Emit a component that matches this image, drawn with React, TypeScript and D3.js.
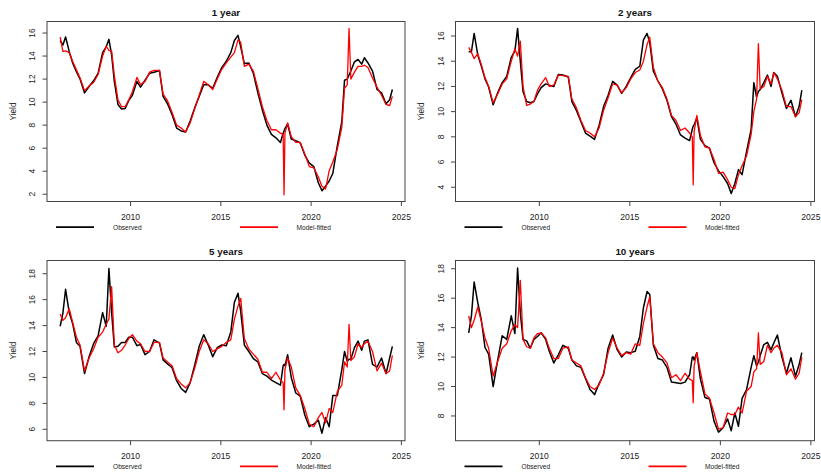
import React from 'react';
import * as d3 from 'd3';

// sampling dates (decimal years), shared by every series
const DATES = [
  2006.1, 2006.25, 2006.4, 2006.6, 2006.8, 2007.0, 2007.2, 2007.45, 2007.7, 2007.95,
  2008.2, 2008.45, 2008.65, 2008.8, 2008.95, 2009.1, 2009.3, 2009.5, 2009.7, 2009.9,
  2010.1, 2010.35, 2010.55, 2010.8, 2011.05, 2011.3, 2011.6, 2011.8, 2012.05, 2012.3,
  2012.55, 2012.8, 2013.05, 2013.3, 2013.55, 2013.8, 2014.05, 2014.3, 2014.55, 2014.8,
  2015.05, 2015.3, 2015.55, 2015.75, 2015.95, 2016.1, 2016.3, 2016.55, 2016.8, 2017.05,
  2017.3, 2017.55, 2017.8, 2018.05, 2018.3, 2018.45, 2018.5, 2018.55, 2018.7, 2018.9,
  2019.15, 2019.4, 2019.65, 2019.9, 2020.15, 2020.4, 2020.6, 2020.8, 2021.0, 2021.2,
  2021.45, 2021.7, 2021.85, 2022.0, 2022.1, 2022.2, 2022.4, 2022.6, 2022.8, 2022.95,
  2023.15, 2023.4, 2023.65, 2023.9, 2024.15, 2024.35, 2024.5,
];

const Y1_OBS = [
  15.35, 14.95, 15.65, 14.4, 13.35, 12.65, 12.0, 10.8, 11.35, 11.85,
  12.5, 14.3, 14.8, 15.45, 14.1, 11.8, 9.8, 9.4, 9.45, 10.15,
  10.6, 11.8, 11.3, 11.9, 12.5, 12.6, 12.75, 10.5, 9.85, 8.9,
  7.75, 7.5, 7.4, 8.35, 9.5, 10.5, 11.5, 11.5, 11.2, 12.15,
  13.0, 13.55, 14.3, 15.35, 15.8, 14.8, 13.35, 13.4, 12.5, 10.8,
  9.3, 8.0, 7.2, 6.9, 6.5, 7.3, 7.5, 7.7, 8.1, 6.8,
  6.65, 6.45, 5.4, 4.7, 4.4, 3.0, 2.3, 2.7, 3.15, 3.8,
  6.2, 8.3, 11.9, 12.0, 12.35, 12.7, 13.5, 13.7, 13.3, 13.85,
  13.4, 12.7, 11.1, 10.8, 9.85, 10.2, 11.1,
];
const Y1_FIT = [
  15.65, 14.4, 14.45, 14.3, 13.5, 12.8, 12.1, 11.0, 11.4, 11.7,
  12.4, 14.0, 14.85, 14.5, 14.45, 12.3, 10.2, 9.6, 9.6, 10.2,
  10.9, 12.15, 11.5, 11.8, 12.6, 12.75, 12.75, 10.7, 10.1, 9.1,
  8.0, 7.75, 7.4, 8.2, 9.4, 10.6, 11.8, 11.5, 11.1, 12.0,
  12.85, 13.4, 13.9, 14.3, 15.4, 15.2, 13.1, 13.3, 12.7, 11.2,
  9.6, 8.4, 7.6, 7.6, 7.3, 7.2, 1.95, 7.3, 8.2, 7.0,
  6.5, 6.5, 5.5, 4.4, 4.3, 3.5, 2.7, 2.45, 4.05, 4.8,
  5.9, 7.8, 11.2, 11.5, 16.4, 12.0, 12.6, 13.1, 13.1, 13.2,
  13.0, 12.1, 11.3, 10.6, 9.8, 9.7, 10.5,
];

const Y2_OBS = [
  14.75, 14.75, 16.2, 14.5, 13.6, 12.6, 11.95, 10.55, 11.5, 12.3,
  12.8, 14.3, 14.8, 16.6, 14.0, 11.6, 10.8, 10.7, 10.8, 11.4,
  11.9, 12.2, 12.1, 12.0, 12.95, 12.9, 12.75, 10.8, 10.1, 9.2,
  8.3, 8.05, 7.8, 8.9, 10.4, 11.3, 12.4, 12.1, 11.45, 12.0,
  12.7, 13.35, 13.6, 15.7, 16.2, 15.5, 13.2, 12.45, 11.8, 10.9,
  9.6, 9.0, 8.15, 7.9, 7.7, 8.6, 8.85, 8.95, 9.5, 7.8,
  7.3, 7.1, 5.95, 5.3, 4.85, 4.3, 3.5, 4.3, 5.4, 5.0,
  6.85, 8.6, 12.3, 11.15, 11.6, 11.75, 12.3, 12.9, 12.0, 13.1,
  12.8, 11.5, 10.25, 10.9, 9.6, 10.4, 11.7,
];
const Y2_FIT = [
  15.1, 14.7, 14.2, 14.6, 13.7, 12.7, 12.0, 10.7, 11.4, 12.2,
  12.6, 14.0, 15.0, 14.4, 15.6, 12.0, 10.5, 10.6, 10.8, 11.7,
  12.2, 12.7, 12.0, 12.1, 12.9, 12.85, 12.8, 11.0, 10.3, 9.3,
  8.5, 8.3, 8.0, 8.7, 10.1, 11.1, 12.2, 12.1, 11.5, 11.9,
  12.6, 13.1, 13.3, 14.0, 15.3, 15.9, 13.5, 12.4, 11.9, 11.0,
  9.7, 9.3, 8.5, 8.7, 8.3, 8.0, 4.2, 8.4, 9.7, 8.1,
  7.2, 7.1, 6.2, 5.1, 5.2, 4.6, 4.0, 3.9, 5.0, 5.7,
  6.5, 8.2, 10.0, 11.0, 15.4, 11.8, 12.0, 12.8, 12.2, 13.1,
  12.6, 11.7, 10.4, 10.4, 9.6, 9.9, 10.95,
];

const Y5_OBS = [
  13.95, 14.95, 16.8, 15.0, 14.1, 12.7, 12.4, 10.3, 11.6, 12.6,
  13.2, 15.0, 13.95, 18.4, 15.0, 12.35, 12.4, 12.7, 12.7, 13.1,
  13.1, 12.45, 12.55, 11.75, 12.0, 12.9, 12.65, 11.35, 11.05, 10.75,
  9.75, 9.15, 8.85, 9.6, 10.95, 12.4, 13.3, 12.5, 11.6, 12.3,
  12.5, 12.45, 13.5, 15.8, 16.5, 15.1, 12.5, 12.0, 11.45, 11.2,
  10.3, 10.1, 9.8, 9.6, 9.4, 10.9, 11.0, 10.9, 11.75, 10.0,
  8.8, 8.55, 7.1, 6.2, 6.4, 6.7, 5.7, 6.9, 6.2, 8.6,
  8.6, 10.6, 12.0, 11.25, 11.4, 11.4, 12.3, 12.8, 12.1, 12.8,
  12.9, 11.0, 10.8, 11.5, 10.3, 11.5, 12.4,
];
const Y5_FIT = [
  14.9, 14.4, 14.6, 15.3, 14.2, 13.1, 12.5, 10.5, 11.5, 12.2,
  13.1, 13.5, 14.1, 14.5, 17.0, 12.5, 11.9, 12.1, 12.5, 13.0,
  13.3, 12.8, 12.6, 12.0, 12.0, 12.7, 12.7, 11.5, 11.2, 10.9,
  9.9, 9.5, 9.2, 9.6, 10.7, 12.0, 12.9, 12.6, 12.0, 12.2,
  12.4, 12.7, 12.9, 14.5, 15.5, 16.1, 13.0, 12.2, 11.8, 11.4,
  10.4, 10.4, 9.9, 10.4, 9.8, 9.6, 7.5, 10.6, 11.5, 10.8,
  9.2, 8.6, 7.6, 6.4, 6.2, 6.9, 7.3, 6.5, 7.6, 7.3,
  8.9, 9.4, 11.2, 10.8, 14.1, 11.3, 11.6, 12.6, 12.3, 12.6,
  12.8, 12.0, 10.5, 11.1, 10.3, 10.5, 11.7,
];

const Y10_OBS = [
  13.65, 14.8, 17.1, 15.7, 14.5, 12.65, 12.2, 10.0, 11.8, 13.45,
  13.2, 14.8, 13.6, 18.05, 15.0, 13.2, 13.1, 12.6, 13.2, 13.4,
  13.65, 13.2, 12.4, 11.6, 12.15, 12.8, 12.6, 11.8, 11.4, 11.3,
  10.55, 9.8, 9.45, 10.2, 10.8, 12.6, 13.5, 12.5, 12.0, 12.35,
  12.3, 12.4, 13.4, 15.35, 16.45, 16.25, 12.8, 11.9, 11.8, 11.3,
  10.3, 10.25, 10.2, 10.3, 10.8, 12.0, 12.0, 11.8, 12.3, 10.5,
  9.25, 9.15, 7.65, 6.9, 7.2, 7.8, 7.0, 8.2, 7.3, 9.2,
  9.8, 11.3, 12.1, 11.4, 11.65, 12.1, 12.85, 13.0, 12.5, 12.95,
  13.5, 12.0, 10.9, 11.95, 10.7, 11.5, 12.3,
];
const Y10_FIT = [
  14.8, 14.0, 14.5, 15.4, 14.4, 13.3, 12.6, 10.7, 11.7, 12.6,
  12.9, 13.8, 14.2, 14.0, 17.2, 13.2, 12.7, 12.6, 13.3, 13.6,
  13.65, 13.3, 12.6, 11.9, 11.9, 12.6, 12.7, 11.8, 11.6, 11.4,
  10.6, 10.0, 9.8, 10.1, 10.9, 12.3, 13.3, 12.6, 12.1, 12.3,
  12.2, 12.9, 12.8, 14.3, 15.4, 16.1, 12.9, 12.3, 12.0, 11.6,
  10.6, 10.8, 10.4, 10.9, 10.5, 10.4, 8.9, 11.4, 12.3, 11.0,
  9.5, 9.2, 8.2, 7.1, 7.2, 8.2, 8.1, 8.1, 8.6, 8.2,
  9.7, 10.0, 11.0, 11.2, 13.65, 11.5, 11.7, 12.8, 12.3, 12.6,
  12.8, 12.3, 10.8, 11.2, 10.5, 10.9, 12.0,
];

const YEAR_TICKS = [2010, 2015, 2020, 2025];
const Y1_TICKS = [2, 4, 6, 8, 10, 12, 14, 16];
const Y2_TICKS = [4, 6, 8, 10, 12, 14, 16];
const Y5_TICKS = [6, 8, 10, 12, 14, 16, 18];
const Y10_TICKS = [8, 10, 12, 14, 16, 18];
const TITLES = ['1 year', '2 years', '5 years', '10 years'];
const LEGEND_LABELS = ['Observed', 'Model-fitted'];

// layout
const W = 821;
const H = 472;
const X_DOMAIN: [number, number] = [2005.37, 2025.2];
const COLS = [[47, 405], [455.5, 814.5]];
const ROWS = [[21.5, 201.5], [260.5, 440.7]];
const FONT = '"Liberation Sans", Arial, Helvetica, sans-serif';
const AXIS_COL = '#444';

const PANELS = [
  { title: TITLES[0], obs: Y1_OBS, fit: Y1_FIT, yDomain: [1.37, 17.0], ticks: Y1_TICKS, col: 0, row: 0 },
  { title: TITLES[1], obs: Y2_OBS, fit: Y2_FIT, yDomain: [2.87, 17.15], ticks: Y2_TICKS, col: 1, row: 0 },
  { title: TITLES[2], obs: Y5_OBS, fit: Y5_FIT, yDomain: [5.12, 19.02], ticks: Y5_TICKS, col: 0, row: 1 },
  { title: TITLES[3], obs: Y10_OBS, fit: Y10_FIT, yDomain: [6.32, 18.56], ticks: Y10_TICKS, col: 1, row: 1 },
];

function Panel({ p }: { p: typeof PANELS[number] }) {
  const [x0, x1] = COLS[p.col];
  const [y0, y1] = ROWS[p.row];
  const x = d3.scaleLinear().domain(X_DOMAIN).range([x0, x1]);
  const y = d3.scaleLinear().domain(p.yDomain).range([y1, y0]);
  const line = d3.line<number>().x((_, i) => x(DATES[i])).y(d => y(d));
  const legY = y1 + 25.7;

  return (
    <g>
      <text x={(x0 + x1) / 2} y={y0 - 5.2} textAnchor="middle" fontSize={9.8} fontWeight="bold" fill="#111">
        {p.title}
      </text>

      {/* x axis */}
      {YEAR_TICKS.map(t => (
        <g key={t}>
          <line x1={x(t)} x2={x(t)} y1={y1} y2={y1 + 4.5} stroke={AXIS_COL} strokeWidth={1} />
          <text x={x(t)} y={y1 + 18.4} textAnchor="middle" fontSize={8.6} fill="#222">{t}</text>
        </g>
      ))}

      {/* y axis */}
      {p.ticks.map(t => (
        <g key={t}>
          <line x1={x0 - 4.5} x2={x0} y1={y(t)} y2={y(t)} stroke={AXIS_COL} strokeWidth={1} />
          <text
            transform={`translate(${x0 - 12},${y(t)}) rotate(-90)`}
            textAnchor="middle"
            fontSize={8.4}
            fill="#222"
          >
            {t}
          </text>
        </g>
      ))}
      <text
        transform={`translate(${x0 - 31.5},${(y0 + y1) / 2}) rotate(-90)`}
        textAnchor="middle"
        fontSize={8.2}
        fill="#222"
      >
        Yield
      </text>

      <path d={line(p.obs) || ''} fill="none" stroke="#000" strokeWidth={1.5} strokeLinejoin="round" />
      <path d={line(p.fit) || ''} fill="none" stroke="#ff0000" strokeWidth={1.3} strokeLinejoin="round" />

      <rect x={x0} y={y0} width={x1 - x0} height={y1 - y0} fill="none" stroke={AXIS_COL} strokeWidth={1} />

      {/* legend */}
      <line x1={x0 + 9} x2={x0 + 47} y1={legY} y2={legY} stroke="#000" strokeWidth={1.8} />
      <text x={x0 + 66} y={legY + 2.3} fontSize={6.6} fill="#222">{LEGEND_LABELS[0]}</text>
      <line x1={x0 + 193} x2={x0 + 231} y1={legY} y2={legY} stroke="#ff0000" strokeWidth={1.8} />
      <text x={x0 + 249.5} y={legY + 2.3} fontSize={6.6} fill="#222">{LEGEND_LABELS[1]}</text>
    </g>
  );
}

export default function App() {
  return (
    <svg
      width={W}
      height={H}
      viewBox={`0 0 ${W} ${H}`}
      style={{ position: 'absolute', left: 0, top: 0, background: '#fff' }}
      fontFamily={FONT}
    >
      {PANELS.map(p => (
        <Panel key={p.title} p={p} />
      ))}
    </svg>
  );
}
